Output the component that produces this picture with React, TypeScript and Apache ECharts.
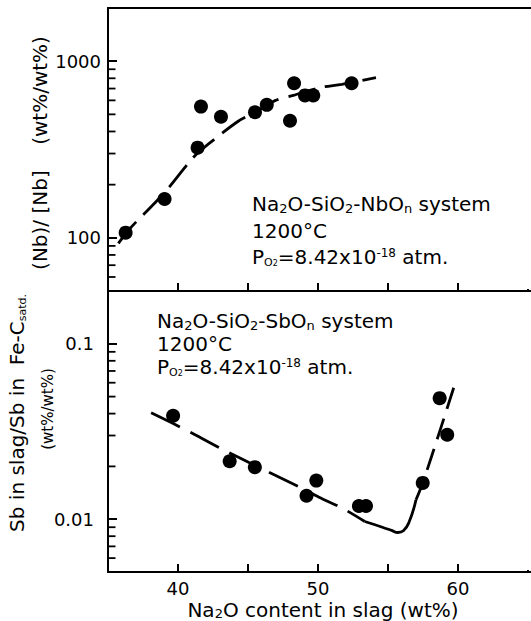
import React, { useEffect, useRef } from 'react';
import * as echarts from 'echarts';

// ---- axes ----
const X_MIN = 35;
const X_MAX = 68;
const X_INTERVAL = 5;
const X_LABELS = [40, 50, 60];
const NB_Y_RANGE = [50, 2000];
const SB_Y_RANGE = [0.005, 0.2];
const NB_MINOR_TICKS = [60, 70, 80, 90, 200, 300, 400, 500, 600, 700, 800, 900];
const SB_MINOR_TICKS = [0.006, 0.007, 0.008, 0.009, 0.02, 0.03, 0.04, 0.05, 0.06, 0.07, 0.08, 0.09];

// ---- Na2O-SiO2-NbOn (top panel) ----
const NB_X = [36.26, 39.04, 41.4, 41.64, 43.07, 45.5, 46.34, 48.0, 48.29, 49.07, 49.66, 52.4];
const NB_Y = [107, 166, 324, 553, 485, 514, 566, 460, 750, 640, 640, 750];
const NB_FIT_X = [35.74, 36.57, 38.36, 39.31, 41.09, 42.16, 44.3, 45.5, 46.93, 48.24, 50.14, 51.7, 54.14];
const NB_FIT_Y = [93, 113, 158, 191, 285, 339, 457, 513, 598, 640, 708, 740, 807];

// ---- Na2O-SiO2-SbOn (bottom panel) ----
const SB_X = [39.65, 43.69, 45.49, 49.18, 49.88, 52.92, 53.43, 57.48, 58.69, 59.23];
const SB_Y = [0.0389, 0.0214, 0.0198, 0.0136, 0.0166, 0.0119, 0.0119, 0.0161, 0.049, 0.0303];
const SB_FIT_LEFT_X = [38.08, 40.42, 43.22, 46.5, 48.71, 50.07, 51.87, 53.34];
const SB_FIT_LEFT_Y = [0.0404, 0.0327, 0.0249, 0.0185, 0.0152, 0.01336, 0.0114, 0.0097];
const SB_FIT_MID_X = [53.34, 54.6, 55.3, 55.7, 56.1, 56.5, 57.0];
const SB_FIT_MID_Y = [0.0097, 0.009, 0.0086, 0.0084, 0.0086, 0.0096, 0.0129];
const SB_FIT_RIGHT_X = [57.0, 57.48, 58.7, 59.88];
const SB_FIT_RIGHT_Y = [0.0129, 0.0161, 0.0318, 0.0625];

const FONT = "'DejaVu Sans', sans-serif";
const BLACK = '#000';

const RICH: any = {
  sub: { fontSize: 13, fontFamily: FONT, verticalAlign: 'bottom', lineHeight: 14, fill: BLACK, color: BLACK },
  osub: { fontSize: 11, fontFamily: FONT, verticalAlign: 'bottom', lineHeight: 12, fill: BLACK, color: BLACK },
  osub2: { fontSize: 8, fontFamily: FONT, verticalAlign: 'bottom', lineHeight: 8, fill: BLACK, color: BLACK },
  sup: { fontSize: 12, fontFamily: FONT, verticalAlign: 'top', lineHeight: 12, fill: BLACK, color: BLACK },
};

function pair(xs: number[], ys: number[]) {
  return xs.map((x, i) => [x, ys[i]]);
}

function logLabel(v: number) {
  const l = Math.log10(v);
  return Math.abs(l - Math.round(l)) < 1e-6 ? String(v) : '';
}

function xAxisBase(gridIndex: number) {
  return {
    gridIndex,
    type: 'value',
    min: X_MIN,
    max: X_MAX,
    interval: X_INTERVAL,
    axisLine: { onZero: false, lineStyle: { color: BLACK, width: 2 } },
    axisTick: { inside: true, length: 8, lineStyle: { color: BLACK, width: 2 } },
    splitLine: { show: false },
    minorSplitLine: { show: false },
  };
}

function yAxisBase(gridIndex: number, range: number[], margin: number) {
  return {
    gridIndex,
    type: 'log',
    logBase: 10,
    min: range[0],
    max: range[1],
    axisLine: { show: true, onZero: false, lineStyle: { color: BLACK, width: 2 } },
    axisTick: { show: true, inside: true, length: 9, lineStyle: { color: BLACK, width: 2 } },
    splitLine: { show: false },
    minorSplitLine: { show: false },
    axisLabel: {
      formatter: logLabel,
      color: BLACK,
      fontSize: 18,
      fontFamily: FONT,
      margin,
    },
  };
}

// minor ticks of the log axes, placed through the axes' own scales
function minorTickSeries(axisIndex: number, values: number[]) {
  return {
    type: 'scatter',
    xAxisIndex: axisIndex,
    yAxisIndex: axisIndex,
    clip: false,
    silent: true,
    z: 5,
    data: values.map((v) => [X_MIN, v]),
    symbol: 'rect',
    symbolSize: [7, 1.8],
    symbolOffset: [4, 0],
    itemStyle: { color: BLACK, opacity: 1 },
    emphasis: { disabled: true },
  };
}

function annot(x: number, y: number, text: string) {
  return {
    type: 'text',
    x,
    y,
    style: {
      text,
      fontSize: 20,
      fontFamily: FONT,
      fill: BLACK,
      align: 'left',
      verticalAlign: 'middle',
      lineHeight: 21,
      rich: RICH,
    },
  };
}

export default function App() {
  const ref = useRef<HTMLDivElement>(null);

  useEffect(() => {
    const chart = echarts.init(ref.current!, null, { renderer: 'svg' });
    const option: any = {
      animation: false,
      backgroundColor: '#fff',
      grid: [
        { left: 108, top: 8, width: 462, height: 283, outerBoundsMode: 'none', containLabel: false, show: false },
        { left: 108, top: 291, width: 462, height: 281, outerBoundsMode: 'none', containLabel: false, show: false },
      ],
      xAxis: [
        { ...xAxisBase(0), axisLabel: { show: false } },
        {
          ...xAxisBase(1),
          axisLabel: {
            formatter: (v: number) => (X_LABELS.includes(v) ? String(v) : ''),
            color: BLACK,
            fontSize: 18,
            fontFamily: FONT,
            margin: 7,
          },
        },
        // top frame line of the upper panel
        {
          gridIndex: 0,
          type: 'value',
          position: 'top',
          min: X_MIN,
          max: X_MAX,
          interval: X_INTERVAL,
          axisLine: { onZero: false, lineStyle: { color: BLACK, width: 2 } },
          axisTick: { show: false },
          axisLabel: { show: false },
          splitLine: { show: false },
        },
      ],
      yAxis: [yAxisBase(0, NB_Y_RANGE, 7), yAxisBase(1, SB_Y_RANGE, 14)],
      series: [
        minorTickSeries(0, NB_MINOR_TICKS),
        minorTickSeries(1, SB_MINOR_TICKS),
        {
          type: 'line',
          xAxisIndex: 0,
          yAxisIndex: 0,
          data: pair(NB_FIT_X, NB_FIT_Y),
          smooth: 0.3,
          symbol: 'none',
          lineStyle: { color: BLACK, width: 2.8, type: [28, 10] },
        },
        {
          type: 'scatter',
          xAxisIndex: 0,
          yAxisIndex: 0,
          data: pair(NB_X, NB_Y),
          symbol: 'circle',
          symbolSize: 14,
          itemStyle: { color: BLACK, opacity: 1 },
        },
        {
          type: 'line',
          xAxisIndex: 1,
          yAxisIndex: 1,
          data: pair(SB_FIT_LEFT_X, SB_FIT_LEFT_Y),
          smooth: 0.3,
          symbol: 'none',
          lineStyle: { color: BLACK, width: 2.8, type: [32, 12] },
        },
        {
          type: 'line',
          xAxisIndex: 1,
          yAxisIndex: 1,
          data: pair(SB_FIT_MID_X, SB_FIT_MID_Y),
          smooth: 0.5,
          symbol: 'none',
          lineStyle: { color: BLACK, width: 2.8 },
        },
        {
          type: 'line',
          xAxisIndex: 1,
          yAxisIndex: 1,
          data: pair(SB_FIT_RIGHT_X, SB_FIT_RIGHT_Y),
          smooth: 0.3,
          symbol: 'none',
          lineStyle: { color: BLACK, width: 2.8, type: [22, 10] },
        },
        {
          type: 'scatter',
          xAxisIndex: 1,
          yAxisIndex: 1,
          data: pair(SB_X, SB_Y),
          symbol: 'circle',
          symbolSize: 14,
          itemStyle: { color: BLACK, opacity: 1 },
        },
      ],
      graphic: [
        // white strips at the right edge, between the frame lines
        { type: 'rect', z: 100, shape: { x: 520, y: 10, width: 11, height: 279 }, style: { fill: '#fff' }, silent: true },
        { type: 'rect', z: 100, shape: { x: 520, y: 293, width: 11, height: 277 }, style: { fill: '#fff' }, silent: true },
        annot(252, 204, 'Na{sub|2}O-SiO{sub|2}-NbO{sub|n} system'),
        annot(252, 231, '1200°C'),
        annot(252, 257, 'P{osub|O}{osub2|2}=8.42x10{sup|-18} atm.'),
        annot(157, 321, 'Na{sub|2}O-SiO{sub|2}-SbO{sub|n} system'),
        annot(157, 344, '1200°C'),
        annot(157, 367, 'P{osub|O}{osub2|2}=8.42x10{sup|-18} atm.'),
        {
          type: 'text',
          x: 323,
          y: 610,
          style: {
            text: 'Na{sub|2}O content in slag (wt%)',
            fontSize: 20,
            fontFamily: FONT,
            fill: BLACK,
            align: 'center',
            verticalAlign: 'middle',
            lineHeight: 20,
            rich: RICH,
          },
        },
        {
          type: 'text',
          x: 40,
          y: 153,
          rotation: Math.PI / 2,
          style: {
            text: '(Nb)/ [Nb]    (wt%/wt%)',
            fontSize: 20,
            fontFamily: FONT,
            fill: BLACK,
            align: 'center',
            verticalAlign: 'middle',
          },
        },
        {
          type: 'text',
          x: 17,
          y: 413,
          rotation: Math.PI / 2,
          style: {
            text: 'Sb in slag/Sb in  Fe-C{osub|satd.}',
            fontSize: 20,
            fontFamily: FONT,
            fill: BLACK,
            align: 'center',
            verticalAlign: 'middle',
            lineHeight: 22,
            rich: RICH,
          },
        },
        {
          type: 'text',
          x: 48,
          y: 409,
          rotation: Math.PI / 2,
          style: {
            text: '(wt%/wt%)',
            fontSize: 15,
            fontFamily: FONT,
            fill: BLACK,
            align: 'center',
            verticalAlign: 'middle',
          },
        },
      ],
    };
    chart.setOption(option);
    return () => chart.dispose();
  }, []);

  return (
    <div
      ref={ref}
      style={{ position: 'fixed', left: 0, top: 0, width: 531, height: 621, background: '#fff' }}
    />
  );
}
